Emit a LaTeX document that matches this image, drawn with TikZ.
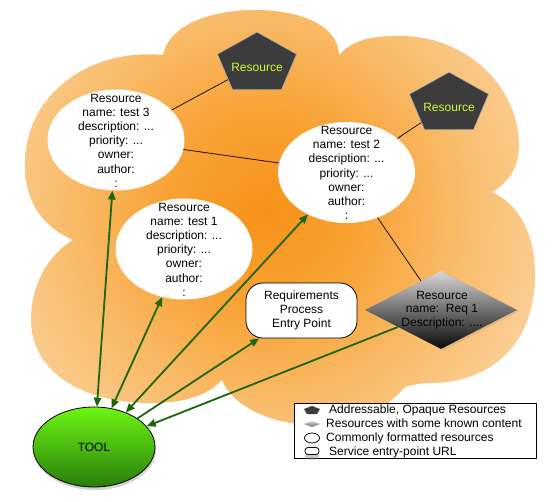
\documentclass[tikz,border=0pt]{standalone}
\usepackage{fontspec}
\setmainfont{Liberation Sans}
\usetikzlibrary{shapes.geometric,arrows.meta,shadows}
\definecolor{cOrange}{RGB}{247,146,24}
\definecolor{cOrMid}{RGB}{248,162,52}
\definecolor{cOrLight}{RGB}{249,190,112}
\definecolor{cOrPale}{RGB}{251,217,172}
\definecolor{cOrEdge}{RGB}{252,227,194}
\definecolor{arrowgreen}{RGB}{28,102,10}
\definecolor{pentfill}{RGB}{60,60,60}
\definecolor{limetext}{RGB}{204,250,50}
\definecolor{toolTop}{RGB}{110,245,20}
\definecolor{toolBot}{RGB}{40,125,10}
\definecolor{diaTop}{RGB}{215,215,215}
\definecolor{diaMid}{RGB}{135,135,135}
\definecolor{diaBot}{RGB}{8,8,8}
\pgfdeclareradialshading{cloudshade}{\pgfpoint{0bp}{0bp}}{color(0bp)=(cOrange); color(6bp)=(cOrMid); color(13bp)=(cOrLight); color(21bp)=(cOrPale); color(25bp)=(cOrEdge); color(50bp)=(cOrEdge)}
\begin{document}
\begin{tikzpicture}[x=1pt,y=-1pt,
  txt/.style={font=\fontsize{12}{14.2}\selectfont, align=center, inner sep=0pt},
  legtxt/.style={font=\fontsize{12}{14}\selectfont, inner sep=0pt, anchor=west},
  resell/.style={ellipse, fill=white, minimum width=137pt, minimum height=101pt, inner sep=0pt},
  pent/.style={regular polygon, regular polygon sides=5, minimum size=83pt, inner sep=0pt, fill=pentfill, draw=gray!70, line width=0.6pt},
  link/.style={draw=black, line width=0.7pt},
  garrow/.style={draw=arrowgreen, line width=1.8pt, {Triangle[length=9pt,width=7.5pt]}-{Triangle[length=9pt,width=7.5pt]}},
  garrowone/.style={draw=arrowgreen, line width=1.8pt, -{Triangle[length=9pt,width=7.5pt]}},
]
\fill[white] (0,0) rectangle (556,502);
\useasboundingbox (0,0) rectangle (556,502);

% cloud
\begin{scope}
\clip (163,55) .. controls (168,28) and (205,10) .. (255,10) .. controls (300,10) and (338,25) .. (339,55)
 .. controls (355,38) and (375,36) .. (400,36) .. controls (470,36) and (519,90) .. (519,145)
 .. controls (519,165) and (510,182) .. (492,192)
 .. controls (520,205) and (535,235) .. (535,275) .. controls (535,345) and (490,383) .. (430,383)
 .. controls (420,383) and (412,385) .. (405,387)
 .. controls (380,415) and (350,425) .. (315,425) .. controls (270,425) and (232,405) .. (222,380)
 .. controls (205,398) and (180,403) .. (150,403) .. controls (80,403) and (31,370) .. (31,320)
 .. controls (31,285) and (48,255) .. (73,240)
 .. controls (40,225) and (25,200) .. (25,165) .. controls (25,92) and (92,48) .. (163,55) -- cycle;
\shade[shading=cloudshade] (265,210) circle (400pt);
\end{scope}

% opaque resources (pentagons)
\begin{scope}[shift={(257,64)}]
\node[pent, yscale=0.766, transform shape] (p1) at (0,0) {};
\end{scope}
\begin{scope}[shift={(449,104)}]
\node[pent, yscale=0.766, transform shape] (p2) at (0,0) {};
\end{scope}
\node[txt, text=limetext] (p1t) at (257,67) {Resource};
\node[txt, text=limetext] (p2t) at (449,107) {Resource};

% formatted resources (ellipses)
\node[resell] (e3) at (116,140) {};
\node[resell] (e1) at (184,249) {};
\node[resell] (e2) at (346.5,172.5) {};
\node[txt] (t3) at (116,140.5) {Resource\\name: test 3\\description: ...\\priority: ...\\owner:\\author:\\:};
\node[txt] (t1) at (184,249.5) {Resource\\name: test 1\\description: ...\\priority: ...\\owner:\\author:\\:};
\node[txt] (t2) at (346.5,173) {Resource\\name: test 2\\description: ...\\priority: ...\\owner:\\author:\\:};

% known-content resource (diamond)
\node[diamond, minimum width=152pt, minimum height=78pt, inner sep=0pt,
  top color=diaTop, middle color=diaMid, bottom color=diaBot,
  drop shadow={opacity=0.2, shadow xshift=3pt, shadow yshift=-1pt}] (d1) at (441,310) {};
\node[txt, font=\fontsize{12}{13.6}\selectfont] (d1t) at (442,310) {Resource\\name:\ \ Req 1\\Description: ....};

% service entry point
\node[draw=black, fill=white, rounded corners=17pt, minimum width=111pt, minimum height=55pt,
  line width=0.8pt, txt, font=\fontsize{12}{13.7}\selectfont] (req) at (301.5,310.5) {Requirements\\Process\\Entry Point};

% tool
\node[ellipse, draw=black, line width=0.8pt, top color=toolTop, bottom color=toolBot,
  minimum width=122pt, minimum height=80pt, inner sep=0pt,
  drop shadow={opacity=0.35, shadow xshift=1pt, shadow yshift=-3pt},
  font=\fontsize{12}{14}\selectfont] (tool) at (94,447) {TOOL};

% black links
\draw[link] (e3) -- (p1);
\draw[link] (e3) -- (e2);
\draw[link] (e2) -- (p2);
\draw[link] (e2) -- (d1);

% green arrows
\draw[garrow] (e3) -- (tool);
\draw[garrow] (e1) -- (tool);
\draw[garrow] (e2) -- (tool);
\draw[garrowone] (tool) -- (req);
\draw[garrowone] (d1) -- (tool);

% legend
\node[draw=black, fill=white, line width=0.8pt, minimum width=242pt, minimum height=55pt, inner sep=0pt] (legend) at (415,430.5) {};
\begin{scope}[shift={(312,410.5)}]
\node[regular polygon, regular polygon sides=5, minimum size=16.8pt, inner sep=0pt, fill=pentfill, yscale=0.55, transform shape] (lg1) at (0,0) {};
\end{scope}
\node[diamond, minimum width=17pt, minimum height=6pt, inner sep=0pt, top color=diaTop, bottom color=diaBot!60] (lg2) at (312,424) {};
\node[ellipse, draw=black, fill=white, line width=0.8pt, minimum width=15pt, minimum height=10pt, inner sep=0pt] (lg3) at (312,438) {};
\node[draw=black, fill=white, line width=0.8pt, rounded corners=3pt, minimum width=14pt, minimum height=7pt, inner sep=0pt,
  drop shadow={opacity=0.4, shadow xshift=0pt, shadow yshift=-5pt}] (lg4) at (312,451) {};
\node[legtxt] (lt1) at (329,410) {Addressable, Opaque Resources};
\node[legtxt] (lt2) at (326,423.5) {Resources with some known content};
\node[legtxt] (lt3) at (326,438) {Commonly formatted resources};
\node[legtxt] (lt4) at (329,452) {Service entry-point URL};
\end{tikzpicture}
\end{document}
